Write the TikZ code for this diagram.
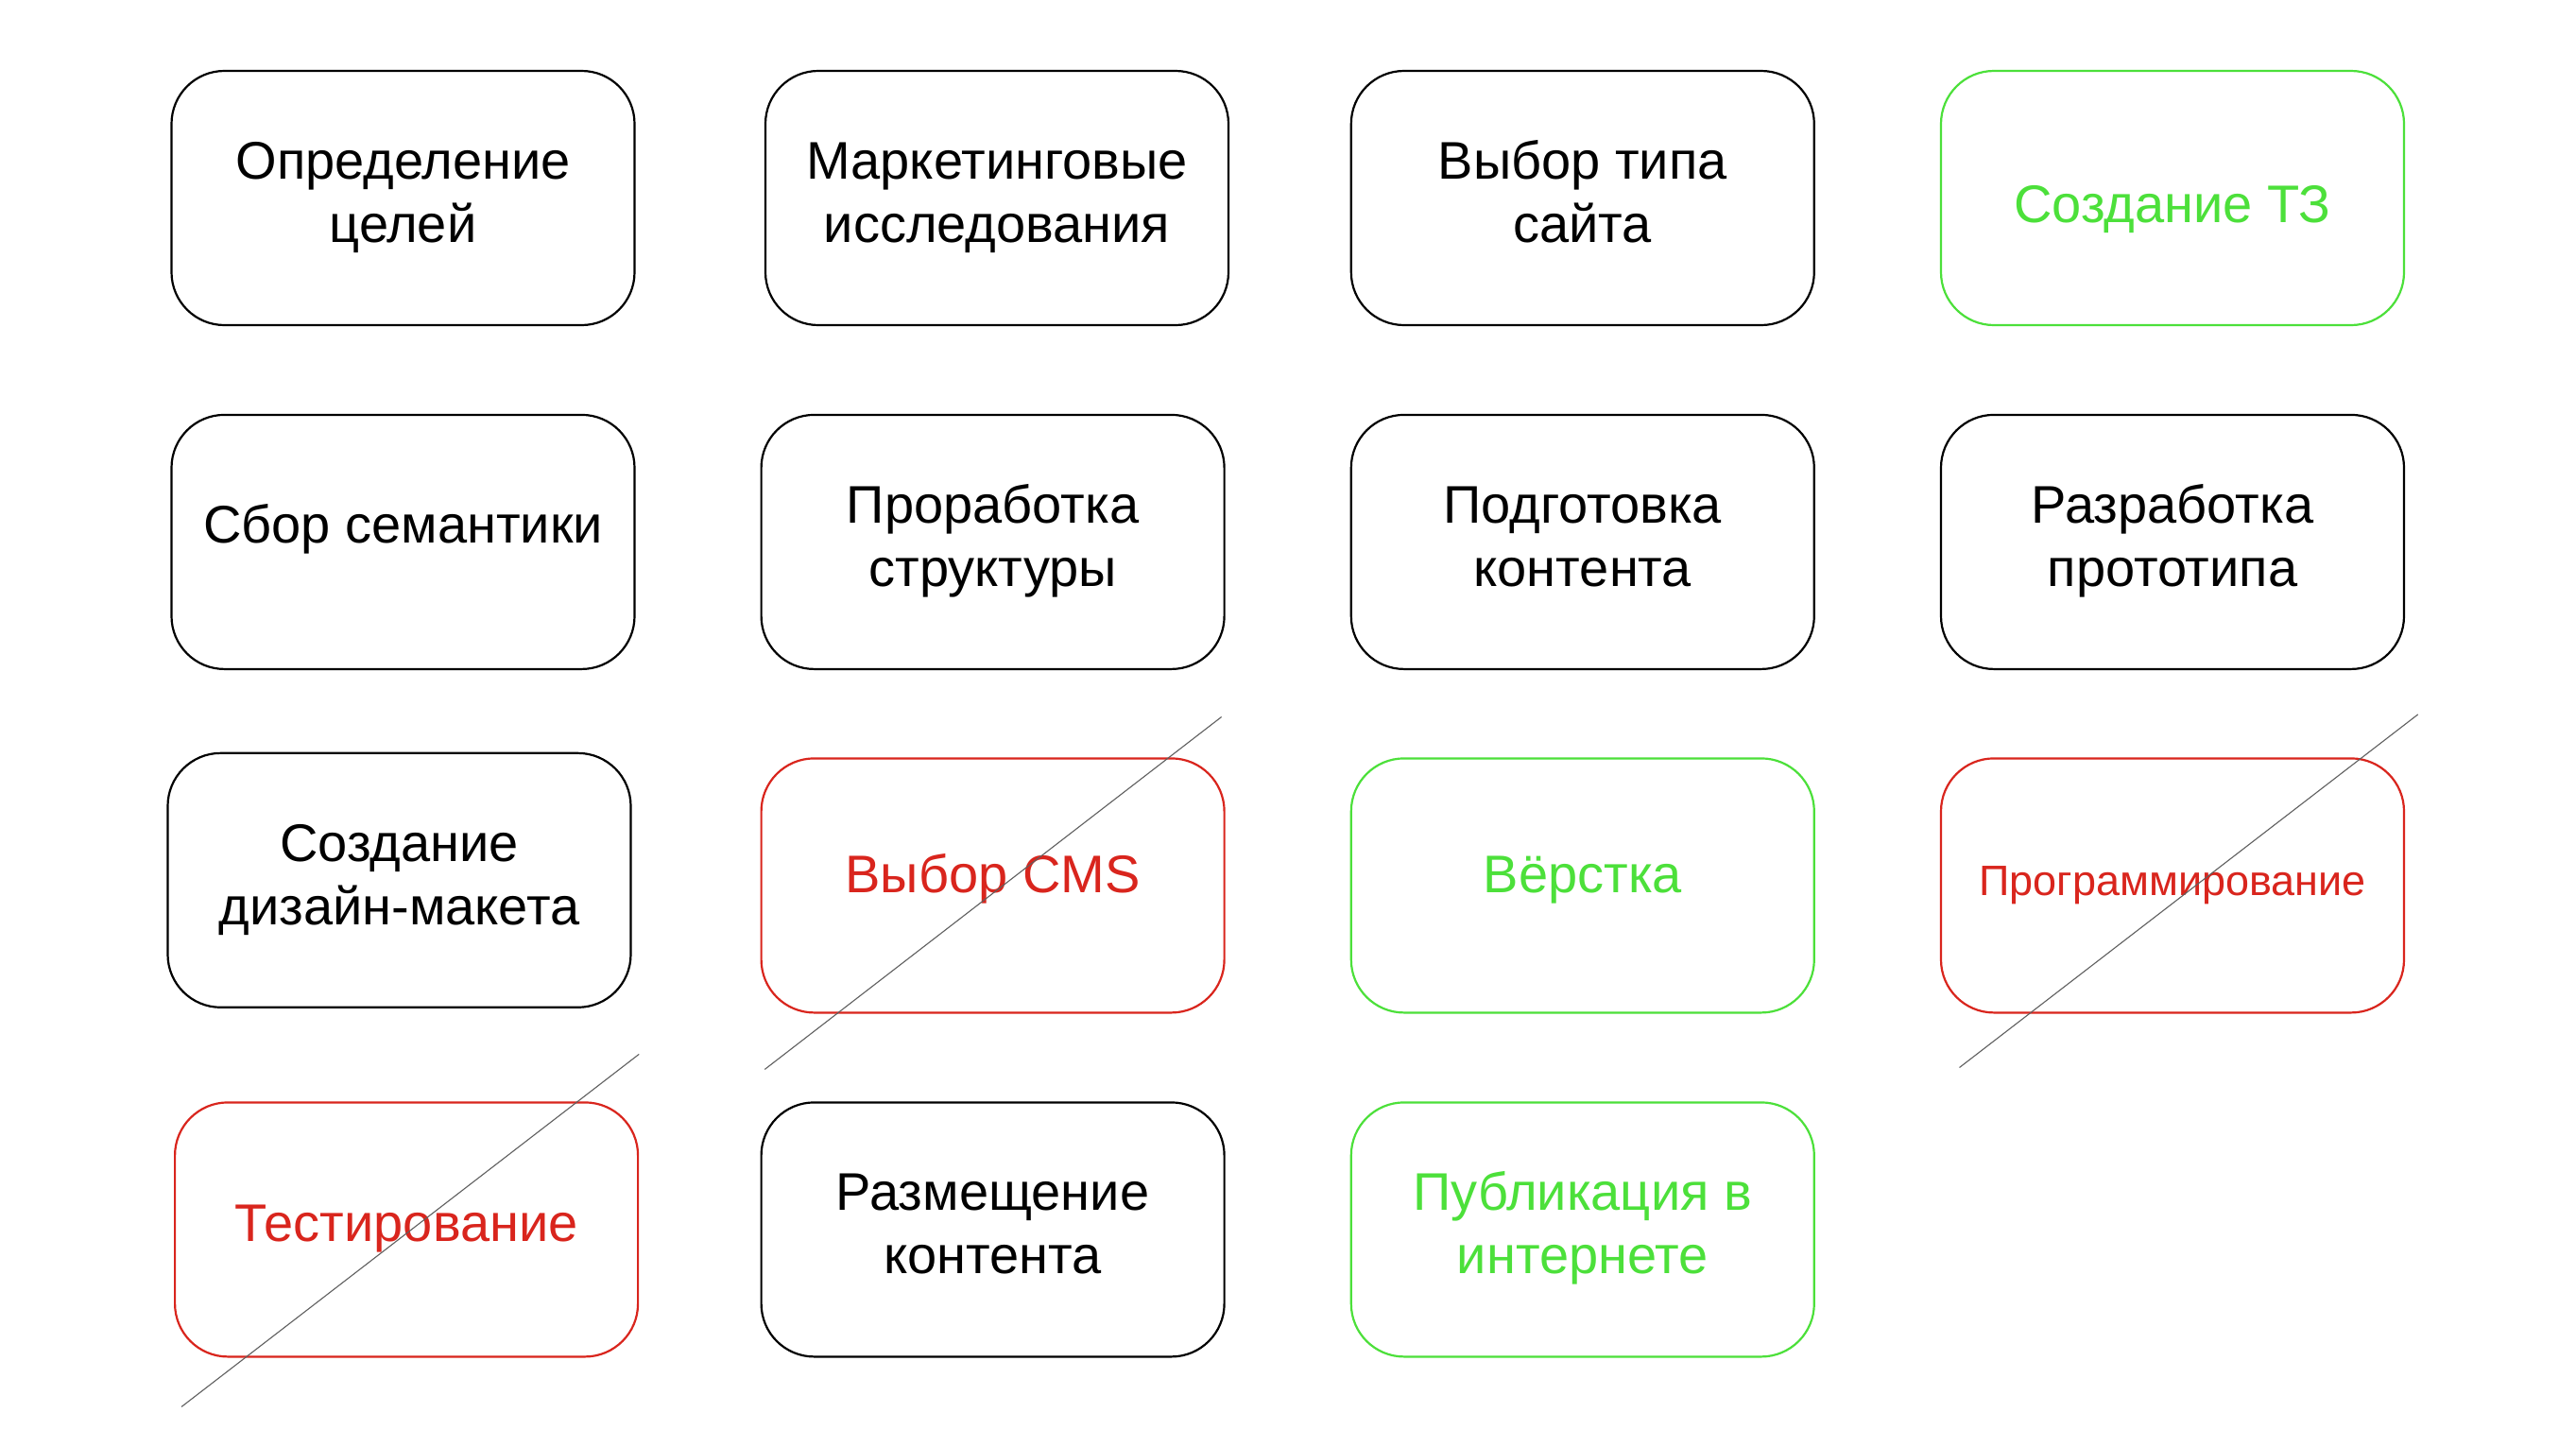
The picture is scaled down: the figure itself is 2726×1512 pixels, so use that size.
\documentclass[tikz,border=0pt]{standalone}
\usepackage{fontspec}
\setmainfont{Liberation Sans}
\definecolor{okgreen}{RGB}{76,224,58}
\definecolor{badred}{RGB}{217,37,29}
\definecolor{strike}{RGB}{95,95,95}
\begin{document}
\begin{tikzpicture}[x=0.5pt,y=-0.5pt,
  stage/.style={draw=black,line width=1.1pt,rounded corners=28pt,
    minimum width=245pt,minimum height=134.5pt,align=center,
    font=\fontsize{28}{33.4}\selectfont,inner sep=0pt},
  okstage/.style={stage,draw=okgreen,text=okgreen},
  badstage/.style={stage,draw=badred,text=badred},
  strikeline/.style={draw=strike,line width=0.55pt}]
\useasboundingbox (0,0) rectangle (2726,1512);
\fill[white] (0,0) rectangle (2726,1512);
% row 1
\node[stage] (n1) at (426.5,209.5) {\strut Определение\\\strut целей};
\node[stage] (n2) at (1055,209.5) {\strut Маркетинговые\\\strut исследования};
\node[stage] (n3) at (1674.8,209.5) {\strut Выбор типа\\\strut сайта};
\node[okstage,text height=32.75pt,text depth=7.25pt] (n4) at (2299,209.5) {Создание ТЗ};
% row 2
\node[stage,text height=20.3pt,text depth=19.7pt] (n5) at (426.5,573.4) {Сбор семантики};
\node[stage] (n6) at (1050.6,573.4) {\strut Проработка\\\strut структуры};
\node[stage] (n7) at (1674.8,573.4) {\strut Подготовка\\\strut контента};
\node[stage] (n8) at (2299,573.4) {\strut Разработка\\\strut прототипа};
% row 3
\node[stage] (n9) at (422.5,931.3) {\strut Создание\\\strut дизайн-макета};
\node[badstage,text height=23.7pt,text depth=16.3pt] (n10) at (1050.6,936.9) {Выбор CMS};
\node[okstage,text height=23.7pt,text depth=16.3pt] (n11) at (1674.8,936.9) {Вёрстка};
\node[badstage,font=\fontsize{22.5}{26}\selectfont,text height=25.2pt,text depth=14.8pt] (n12) at (2299,936.9) {Программирование};
% row 4
\node[badstage,text height=26.5pt,text depth=13.5pt] (n13) at (430.1,1300.9) {Тестирование};
\node[stage] (n14) at (1050.6,1300.9) {\strut Размещение\\\strut контента};
\node[okstage] (n15) at (1674.8,1300.9) {\strut Публикация в\\\strut интернете};
% strike-through lines
\coordinate (s10a) at (1292.6,758.5);
\coordinate (s10b) at (809.3,1131.4);
\coordinate (s12a) at (2558.7,755.9);
\coordinate (s12b) at (2073.5,1129.5);
\coordinate (s13a) at (676.2,1115.4);
\coordinate (s13b) at (192.1,1488.4);
\draw[strikeline] (s10a) -- (s10b);
\draw[strikeline] (s12a) -- (s12b);
\draw[strikeline] (s13a) -- (s13b);
\end{tikzpicture}
\end{document}
